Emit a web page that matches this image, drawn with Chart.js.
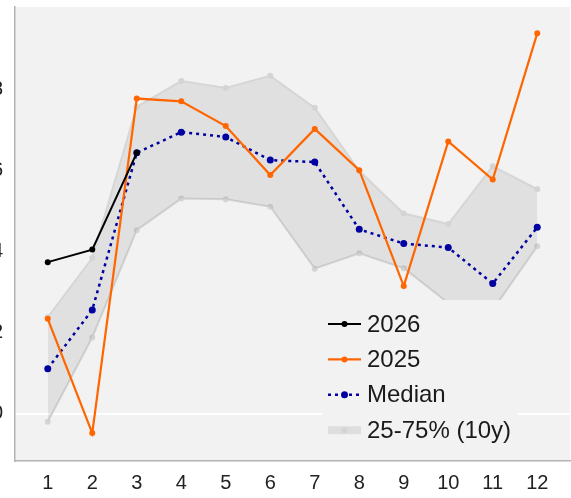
<!DOCTYPE html>
<html>
<head>
<meta charset="utf-8">
<script src="https://cdn.jsdelivr.net/npm/chart.js@4"></script>
<style>
  html, body { margin: 0; padding: 0; background: #fff; overflow: hidden; }
  #wrap { position: absolute; left: -25px; top: 0; width: 599px; height: 498px; }
</style>
</head>
<body>
<div id="wrap"><canvas id="chart"></canvas></div>
<script>
// valeurs
const months = [1, 2, 3, 4, 5, 6, 7, 8, 9, 10, 11, 12];
const yTicks = [0, 2, 4, 6, 8];
const y2026 = [3.74, 4.05, 6.44];
const y2025 = [2.34, -0.48, 7.78, 7.71, 7.10, 5.89, 7.03, 6.01, 3.15, 6.72, 5.78, 9.39];
const median = [1.11, 2.56, 6.44, 6.95, 6.83, 6.26, 6.21, 4.55, 4.20, 4.10, 3.21, 4.60];
const p75 = [2.38, 3.84, 7.57, 8.21, 8.04, 8.34, 7.55, 5.99, 4.94, 4.68, 6.11, 5.54];
const p25 = [-0.20, 1.88, 4.53, 5.31, 5.29, 5.11, 3.58, 3.96, 3.59, 2.73, 2.56, 4.13];

const FONT = "'Liberation Sans', Arial, sans-serif";
const toXY = arr => arr.map((v, i) => ({ x: months[i], y: v }));

// fond gris de la zone de tracé
const bgPlugin = {
    id: 'bg',
    beforeDraw(chart) {
        const a = chart.chartArea, c = chart.ctx;
        c.save();
        c.fillStyle = '#f2f2f2';
        c.fillRect(a.left, a.top, a.right - a.left, a.bottom - a.top);
        c.restore();
    }
};

// légende dessinée par-dessus les courbes
const legendPlugin = {
    id: 'boxLegend',
    afterDatasetsDraw(chart) {
        const c = chart.ctx;
        const box = { x: 347, y: 300, w: 196, h: 152 };
        c.save();
        c.fillStyle = '#f2f2f2';
        c.fillRect(box.x, box.y, box.w, box.h);
        const items = chart.data.datasets.filter(d => d.legend);
        items.forEach((d, i) => {
            const cy = 324 + i * 35.4;
            const x0 = 353, x1 = 386, xm = (x0 + x1) / 2;
            if (d.legend === 'band') {
                c.fillStyle = '#dedede';
                c.fillRect(x0, cy - 4, x1 - x0, 8);
            } else {
                c.strokeStyle = d.borderColor;
                c.lineWidth = d.borderWidth;
                c.setLineDash(d.borderDash || []);
                c.beginPath();
                c.moveTo(x0, cy);
                c.lineTo(x1, cy);
                c.stroke();
                c.setLineDash([]);
            }
            c.fillStyle = d.pointBackgroundColor;
            c.beginPath();
            c.arc(xm, cy, d.pointRadius, 0, Math.PI * 2);
            c.fill();
            c.fillStyle = '#1a1a1a';
            c.font = '24px ' + FONT;
            c.textBaseline = 'middle';
            c.textAlign = 'left';
            c.fillText(d.label, 392, cy + 1);
        });
        c.restore();
    }
};

const ctx = document.getElementById('chart').getContext('2d');
new Chart(ctx, {
    type: 'line',
    data: {
        datasets: [
            {
                label: '2026', legend: 'line', data: toXY(y2026),
                borderColor: '#000', borderWidth: 2,
                pointBackgroundColor: '#000', pointBorderWidth: 0, pointRadius: 3,
                fill: false, order: 1
            },
            {
                label: '2025', legend: 'line', data: toXY(y2025),
                borderColor: '#ff6600', borderWidth: 2.2,
                pointBackgroundColor: '#ff6600', pointBorderWidth: 0, pointRadius: 3,
                fill: false, order: 2
            },
            {
                label: 'Median', legend: 'line', data: toXY(median),
                borderColor: '#0000a0', borderWidth: 2.5, borderDash: [3, 4],
                pointBackgroundColor: '#0000a0', pointBorderWidth: 0, pointRadius: 3.5,
                fill: false, order: 3
            },
            {
                label: '25-75% (10y)', legend: 'band', data: toXY(p75),
                borderColor: '#d6d6d6', borderWidth: 2,
                pointBackgroundColor: '#d4d4d4', pointBorderWidth: 0, pointRadius: 3,
                backgroundColor: 'rgba(0,0,0,0.07)',
                fill: '+1', order: 10
            },
            {
                label: 'p25', data: toXY(p25),
                borderColor: '#d6d6d6', borderWidth: 2,
                pointBackgroundColor: '#d4d4d4', pointBorderWidth: 0, pointRadius: 3,
                fill: false, order: 11
            }
        ]
    },
    options: {
        responsive: true,
        maintainAspectRatio: false,
        animation: false,
        layout: { padding: { top: 7, right: 0, left: 0, bottom: 0 } },
        plugins: {
            legend: { display: false },
            tooltip: { enabled: false }
        },
        scales: {
            x: {
                type: 'linear',
                min: 0.264,
                max: 12.736,
                afterBuildTicks: s => { s.ticks = months.map(v => ({ value: v })); },
                afterFit: s => { s.height = 37; s.paddingLeft = 0; s.paddingRight = 0; },
                grid: { display: false },
                border: { display: true, color: '#b4b4b4', width: 1.5 },
                ticks: { color: '#222', font: { size: 20, family: FONT }, padding: 2, maxRotation: 0, autoSkip: false }
            },
            y: {
                min: -1.17,
                max: 10.04,
                afterBuildTicks: s => { s.ticks = yTicks.map(v => ({ value: v })); },
                afterFit: s => { s.width = 40; s.paddingTop = 0; s.paddingBottom = 0; },
                grid: {
                    drawTicks: false,
                    color: c => (c.tick && c.tick.value === 0 ? '#ffffff' : 'rgba(0,0,0,0)'),
                    lineWidth: 2
                },
                border: { display: true, color: '#b4b4b4', width: 1.5 },
                ticks: { color: '#222', font: { size: 20, family: FONT }, padding: 12 }
            }
        }
    },
    plugins: [bgPlugin, legendPlugin]
});
</script>
</body>
</html>
